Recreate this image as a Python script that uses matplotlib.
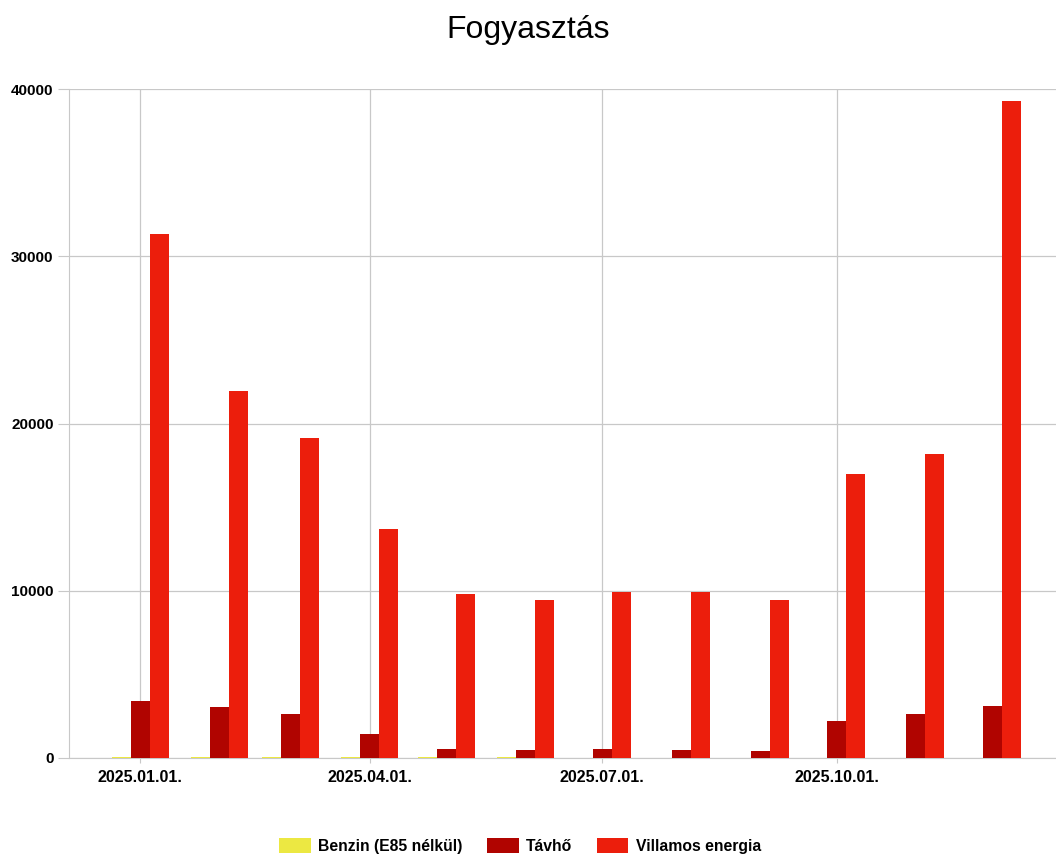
import datetime as dt
import matplotlib
matplotlib.use('Agg')
import matplotlib.pyplot as plt
import matplotlib.dates as mdates

plt.rcParams['font.family'] = ['Liberation Sans', 'DejaVu Sans']

months = [dt.datetime(2025, m, 1) for m in range(1, 13)]
benzin = [70, 60, 60, 70, 55, 55, 0, 0, 0, 0, 0, 0]
tavho = [3400, 3050, 2630, 1430, 540, 480, 520, 480, 420, 2210, 2630, 3110]
villamos = [31330, 21950, 19110, 13690, 9800, 9430, 9930, 9920, 9440, 17000, 18190, 39280]
series = [
    ('Benzin (E85 nélkül)', benzin, '#ece842'),
    ('Távhő', tavho, '#b00400'),
    ('Villamos energia', villamos, '#ec1e0c'),
]

fig = plt.figure(figsize=(10.56, 8.56), dpi=100)
ax = fig.add_axes([0.0653, 0.1145, 0.9347, 0.7815])

w = 7.45  # days
for i, (name, vals, col) in enumerate(series):
    xs = [m + dt.timedelta(days=(i - 1) * w) for m in months]
    ax.bar(xs, vals, width=w, color=col, label=name, zorder=3, linewidth=0)

ax.set_ylim(0, 40000)
ax.set_yticks([0, 10000, 20000, 30000, 40000])
ax.set_xlim(dt.datetime(2024, 12, 4), dt.datetime(2025, 12, 26))
ax.xaxis.set_major_locator(mdates.MonthLocator(bymonth=[1, 4, 7, 10]))
ax.xaxis.set_major_formatter(mdates.DateFormatter('%Y.%m.%d.'))

ax.grid(True, color='#c8c8c8', linewidth=0.9, zorder=0)
for s in ['top', 'right']:
    ax.spines[s].set_visible(False)
ax.spines['left'].set_color('#c8c8c8')
ax.spines['bottom'].set_color('#c8c8c8')
ax.tick_params(axis='y', length=8, color='#c8c8c8', pad=3, labelsize=11)
ax.tick_params(axis='x', length=3.6, color='#c8c8c8', pad=5, labelsize=11.5)
for lbl in ax.get_xticklabels() + ax.get_yticklabels():
    lbl.set_fontweight('bold')

fig.suptitle('Fogyasztás', fontsize=23, y=0.982)
fig.legend(loc='lower center', bbox_to_anchor=(0.4925, -0.014), ncol=3, frameon=False,
           prop={'weight': 'bold', 'size': 11.3}, handlelength=2.0, handleheight=1.0,
           columnspacing=1.6, handletextpad=0.45)

plt.savefig('out.png')
